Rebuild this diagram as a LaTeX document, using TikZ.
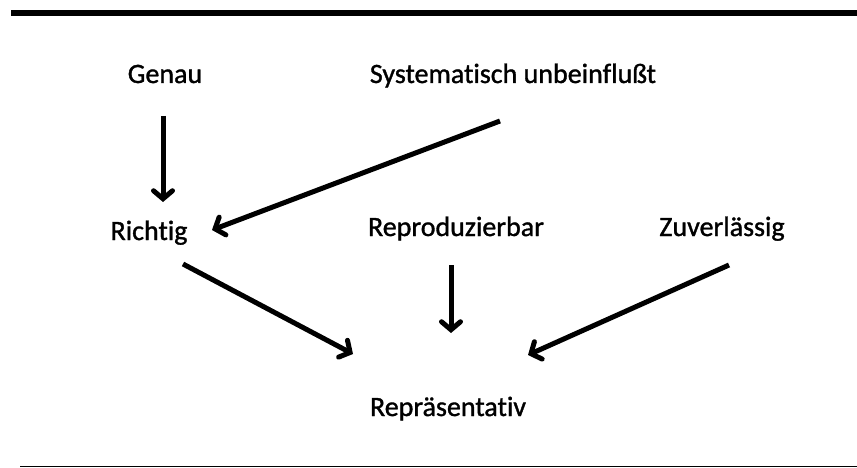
\documentclass[tikz,border=0pt]{standalone}
\usepackage{fontspec}
\setmainfont{Carlito}[Ligatures=NoCommon, FakeBold=1.2]
\usetikzlibrary{arrows.meta}

\begin{document}
\begin{tikzpicture}[x=1pt, y=-1pt,
  font=\fontsize{28}{32}\selectfont,
  lbl/.style={inner sep=0pt, anchor=base},
  ar/.style={-{Straight Barb[length=8pt, width=19pt, line cap=round]},
             line width=5pt}]
\useasboundingbox (0,0) rectangle (857,468);
% rules
\fill (11,10) rectangle (857,16);
\draw[line width=1.2pt] (20,466.5) -- (857,466.5);
% terms
\node[lbl] (genau) at (165,83) {Genau};
\node[lbl] (syst) at (513,83) {Systematisch unbeinflußt};
\node[lbl] (richtig) at (149,240) {Richtig};
\node[lbl] (repro) at (456,236) {Reproduzierbar};
\node[lbl] (zuver) at (722,236) {Zuverlässig};
\node[lbl] (repr) at (448,416) {Repräsentativ};
% arrow ends
\coordinate (genau-o) at (163,116);
\coordinate (richtig-t) at (163,202);
\coordinate (syst-o) at (500,121);
\coordinate (richtig-i) at (212,230);
\coordinate (richtig-o) at (183,264);
\coordinate (repro-o) at (451,265);
\coordinate (zuver-o) at (729,265);
\coordinate (repr-l) at (353,354);
\coordinate (repr-m) at (451,333);
\coordinate (repr-r) at (528,355);
\draw[ar] (genau-o) -- (richtig-t);
\draw[ar] (syst-o) -- (richtig-i);
\draw[ar] (richtig-o) -- (repr-l);
\draw[ar] (repro-o) -- (repr-m);
\draw[ar] (zuver-o) -- (repr-r);
\end{tikzpicture}
\end{document}
